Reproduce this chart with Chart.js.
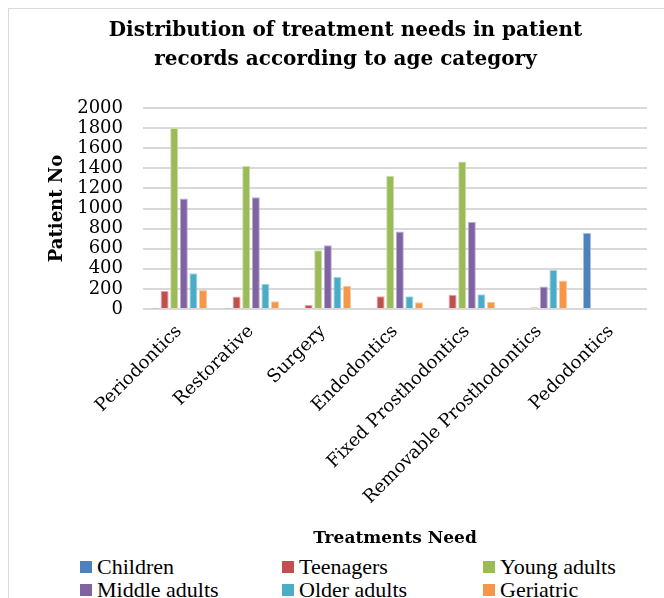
<!DOCTYPE html>
<html>
<head>
<meta charset="utf-8">
<script src="https://cdn.jsdelivr.net/npm/chart.js@4.4.0/dist/chart.umd.min.js"></script>
<style>
  body { margin: 0; background: #fff; width: 664px; height: 598px; overflow: hidden; position: relative; }
  #frame { position: absolute; left: 8px; top: 8px; width: 720px; height: 700px; border: 1px solid #d9d9d9; }
  #wrap { position: absolute; left: 0; top: 0; width: 664px; height: 553px; }
  #legend { position: absolute; left: 80px; top: 555px; display: grid; grid-template-columns: 202px 201px 180px;
            font-family: "Liberation Serif"; font-size: 22px; line-height: 23px; color: #000; }
  .item { display: flex; align-items: center; white-space: nowrap; }
  .sw { width: 12px; height: 12px; margin-right: 5px; flex: none; }
</style>
</head>
<body>
<div id="frame"></div>
<div id="wrap"><canvas id="chart"></canvas></div>
<div id="legend"></div>
<script>
const categories = ['Periodontics', 'Restorative', 'Surgery', 'Endodontics', 'Fixed Prosthodontics', 'Removable Prosthodontics', 'Pedodontics'];
const seriesNames = ['Children', 'Teenagers', 'Young adults', 'Middle adults', 'Older adults', 'Geriatric'];
const children     = [5, 4, 0, 0, 0, 0, 756];
const teenagers    = [178, 125, 40, 128, 143, 0, 0];
const youngAdults  = [1800, 1422, 584, 1325, 1468, 18, 0];
const middleAdults = [1100, 1112, 634, 772, 868, 224, 0];
const olderAdults  = [356, 251, 320, 126, 148, 389, 0];
const geriatric    = [188, 78, 231, 66, 72, 284, 0];
const yTicks = [0, 200, 400, 600, 800, 1000, 1200, 1400, 1600, 1800, 2000];

const colors  = ['#4F81BD', '#C0504D', '#9BBB59', '#8064A2', '#4BACC6', '#F79646'];
const borders = ['#a7c0de', '#dfa7a6', '#cddcac', '#bfb1d0', '#a5d5e2', '#fbcaa2'];
const values = [children, teenagers, youngAdults, middleAdults, olderAdults, geriatric];

const serif = 'DejaVu Serif';

new Chart(document.getElementById('chart'), {
    type: 'bar',
    data: {
        labels: categories,
        datasets: seriesNames.map((name, i) => ({
            label: name,
            data: values[i],
            backgroundColor: colors[i],
            borderColor: borders[i],
            borderWidth: 1,
            categoryPercentage: 0.8,
            barPercentage: 0.84
        }))
    },
    options: {
        responsive: true,
        maintainAspectRatio: false,
        animation: false,
        layout: { padding: { left: 44, right: 17, top: 0, bottom: 0 } },
        plugins: {
            legend: { display: false },
            tooltip: { enabled: false },
            title: {
                display: true,
                text: ['Distribution of treatment needs in patient', 'records according to age category'],
                color: '#000',
                font: { family: serif, size: 20, weight: 'bold', lineHeight: 1.45 },
                padding: { top: 16, bottom: 34 }
            }
        },
        scales: {
            x: {
                grid: { display: false },
                border: { display: false },
                ticks: {
                    color: '#000',
                    font: { family: serif, size: 18 },
                    maxRotation: 45, minRotation: 45,
                    padding: 4
                },
                title: {
                    display: true,
                    text: 'Treatments Need',
                    color: '#000',
                    font: { family: serif, size: 17, weight: 'bold' },
                    padding: { top: 0, bottom: 4 }
                },
                afterFit: s => { s.height = 244; }
            },
            y: {
                min: 0, max: 2000,
                afterBuildTicks: s => { s.ticks = yTicks.map(v => ({ value: v })); },
                grid: { color: '#d9d9d9', lineWidth: 2, drawTicks: false },
                border: { display: false },
                ticks: {
                    color: '#000',
                    font: { family: serif, size: 18 },
                    padding: 20,
                    autoSkip: false,
                    callback: v => String(v)
                },
                title: {
                    display: true,
                    text: 'Patient No',
                    color: '#000',
                    font: { family: serif, size: 18, weight: 'bold' },
                    padding: { top: 3, bottom: 0 }
                },
                afterFit: s => { s.width = 99; }
            }
        }
    }
});

document.getElementById('legend').innerHTML = seriesNames.map((name, i) => `
    <div class="item"><span class="sw" style="background:${colors[i]}"></span>${name}</div>
`).join('');
</script>
</body>
</html>
